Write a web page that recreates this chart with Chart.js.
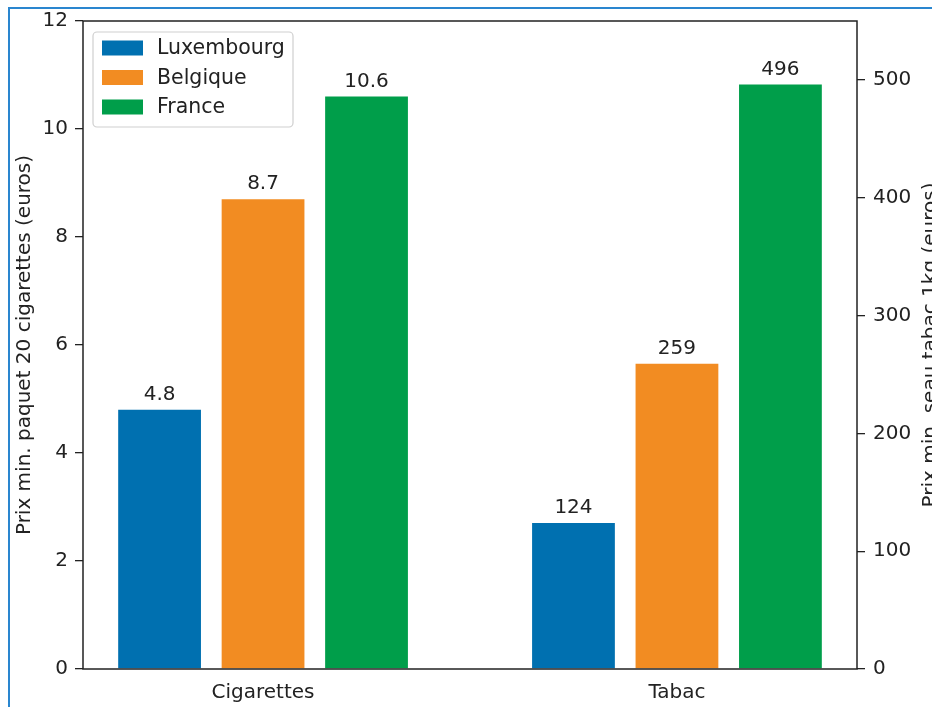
<!DOCTYPE html>
<html lang="fr">
<head>
<meta charset="UTF-8">
<title>Prix minimum cigarettes et tabac</title>
<style>
  html, body { margin: 0; padding: 0; background: #fff; overflow: hidden; }
  .frame {
    position: absolute; left: 8px; top: 7px; width: 1000px; height: 800px;
    border-left: 2px solid #2a86cf; border-top: 2px solid #2a86cf;
  }
  #chart { position: absolute; left: 0; top: 0; }
</style>
</head>
<body>
<div class="frame"></div>
<canvas id="chart" width="950" height="720"></canvas>

<script src="https://cdn.jsdelivr.net/npm/chart.js"></script>
<script>
const categories = ['Cigarettes', 'Tabac'];
const countries = ['Luxembourg', 'Belgique', 'France'];
const cigarettePrices = [4.8, 8.7, 10.6];   // euros, paquet de 20
const tobaccoPrices = [124, 259, 496];      // euros, seau 1kg
const leftTicks = [0, 2, 4, 6, 8, 10, 12];
const rightTicks = [0, 100, 200, 300, 400, 500];
const colors = ['#0070b0', '#f28c22', '#009e4a'];

const FONT = 'DejaVu Sans';
const TEXT = '#222';

const datasets = [];
countries.forEach((c, i) => {
    datasets.push({
        label: c,
        data: [{ x: categories.indexOf('Cigarettes'), y: cigarettePrices[i] }],
        yAxisID: 'y',
        backgroundColor: colors[i]
    });
});
countries.forEach((c, i) => {
    datasets.push({
        label: c,
        data: [{ x: 0, y: null }, { x: categories.indexOf('Tabac'), y: tobaccoPrices[i] }],
        yAxisID: 'y2',
        backgroundColor: colors[i]
    });
});

// axis frame around the plot
const framePlugin = {
    id: 'frame',
    afterDatasetsDraw(chart) {
        const { ctx, chartArea: a } = chart;
        ctx.save();
        ctx.strokeStyle = TEXT;
        ctx.lineWidth = 1.5;
        ctx.strokeRect(a.left, a.top, a.right - a.left, a.bottom - a.top);
        ctx.restore();
    }
};

// values above the bars
const valueLabels = {
    id: 'valueLabels',
    afterDatasetsDraw(chart) {
        const ctx = chart.ctx;
        ctx.save();
        ctx.font = '20px "' + FONT + '"';
        ctx.fillStyle = TEXT;
        ctx.textAlign = 'center';
        ctx.textBaseline = 'alphabetic';
        chart.data.datasets.forEach((ds, di) => {
            chart.getDatasetMeta(di).data.forEach((bar, j) => {
                const v = ds.data[j].y;
                if (v == null) return;
                ctx.fillText(String(v), bar.x, bar.y - 10);
            });
        });
        ctx.restore();
    }
};

// legend box in the upper left corner of the plot
const boxLegend = {
    id: 'boxLegend',
    afterDraw(chart) {
        const { ctx, chartArea: a } = chart;
        const x = a.left + 10, y = a.top + 11, w = 200, h = 95;
        ctx.save();
        ctx.beginPath();
        ctx.roundRect(x, y, w, h, 4);
        ctx.fillStyle = 'rgba(255,255,255,0.85)';
        ctx.fill();
        ctx.strokeStyle = '#cfcfcf';
        ctx.lineWidth = 1.2;
        ctx.stroke();
        ctx.font = '20.5px "' + FONT + '"';
        ctx.textBaseline = 'middle';
        countries.forEach((c, i) => {
            const cy = y + 16 + i * 29.5;
            ctx.fillStyle = colors[i];
            ctx.fillRect(x + 9, cy - 7.5, 41, 15);
            ctx.fillStyle = TEXT;
            ctx.fillText(c, x + 64, cy + 1);
        });
        ctx.restore();
    }
};

// right axis title, read bottom to top like the left one
const rightTitle = {
    id: 'rightTitle',
    afterDraw(chart) {
        const { ctx, chartArea: a } = chart;
        ctx.save();
        ctx.translate(a.right + 74, (a.top + a.bottom) / 2);
        ctx.rotate(-Math.PI / 2);
        ctx.font = '20px "' + FONT + '"';
        ctx.fillStyle = TEXT;
        ctx.textAlign = 'center';
        ctx.textBaseline = 'middle';
        ctx.fillText('Prix min. seau tabac 1kg (euros)', 0, 0);
        ctx.restore();
    }
};

const tickGrid = {
    drawOnChartArea: false,
    drawTicks: true,
    tickLength: 8,
    color: TEXT,
    lineWidth: 1.3
};

new Chart(document.getElementById('chart'), {
    type: 'bar',
    data: { datasets },
    options: {
        responsive: false,
        animation: false,
        layout: { padding: { top: 21, left: 0, right: 0, bottom: 0 } },
        datasets: {
            bar: { skipNull: true, categoryPercentage: 0.75, barPercentage: 0.8 }
        },
        plugins: {
            legend: { display: false },
            tooltip: { enabled: false }
        },
        scales: {
            x: {
                type: 'linear',
                offset: false,
                min: -0.435,
                max: 1.435,
                afterBuildTicks: s => { s.ticks = categories.map((c, i) => ({ value: i })); },
                afterFit: s => { s.height = 51; },
                grid: { display: false, drawTicks: false, offset: false },
                border: { display: false },
                ticks: {
                    callback: v => categories[v] ?? '',
                    font: { family: FONT, size: 20 },
                    color: TEXT,
                    padding: 12,
                    maxRotation: 0
                }
            },
            y: {
                position: 'left',
                min: 0,
                max: 12,
                afterBuildTicks: s => { s.ticks = leftTicks.map(v => ({ value: v })); },
                afterFit: s => { s.width = 83; },
                grid: tickGrid,
                border: { display: false },
                ticks: {
                    font: { family: FONT, size: 20 },
                    color: TEXT,
                    padding: 7
                },
                title: {
                    display: true,
                    text: 'Prix min. paquet 20 cigarettes (euros)',
                    font: { family: FONT, size: 20 },
                    color: TEXT,
                    padding: { top: 13, bottom: 0 }
                }
            },
            y2: {
                position: 'right',
                min: 0,
                max: 550,
                afterBuildTicks: s => { s.ticks = rightTicks.map(v => ({ value: v })); },
                afterFit: s => { s.width = 93; },
                grid: tickGrid,
                border: { display: false },
                ticks: {
                    font: { family: FONT, size: 20 },
                    color: TEXT,
                    padding: 8
                }
            }
        }
    },
    plugins: [framePlugin, valueLabels, boxLegend, rightTitle]
});
</script>
</body>
</html>
